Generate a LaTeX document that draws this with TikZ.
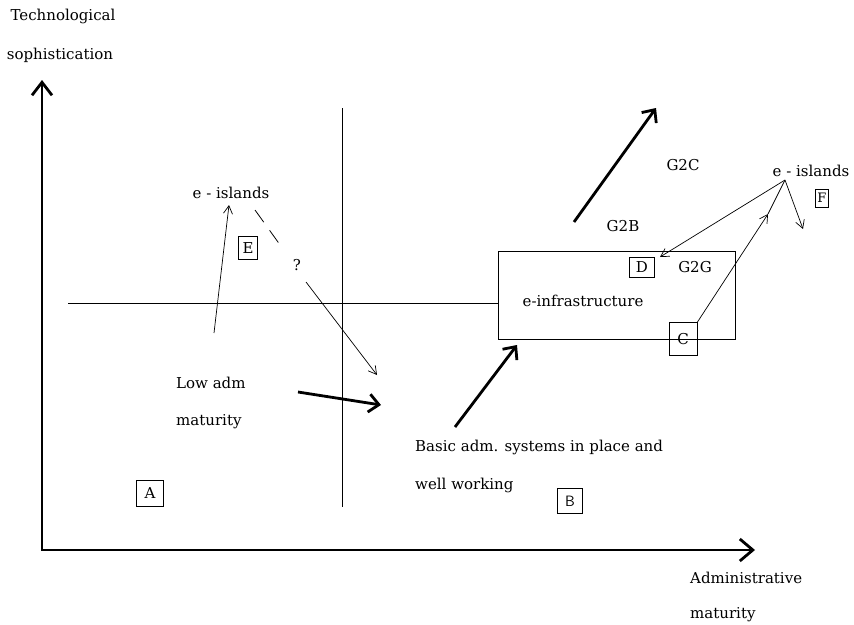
\documentclass[tikz,border=0pt]{standalone}
\usepackage{fontspec}
\setmainfont{DejaVu Serif}
\usetikzlibrary{arrows.meta}
\begin{document}
\begin{tikzpicture}[x=1pt,y=-1pt,
  lbl/.style={font=\fontsize{15}{17}\selectfont, inner sep=0pt},
  lbll/.style={lbl, anchor=west},
  letterbox/.style={draw, line width=0.8pt, inner sep=0pt, font=\fontsize{15}{17}\selectfont},
  axis/.style={line width=2.8pt, line join=miter,
    {Straight Barb[length=13pt,width=20pt]}-{Straight Barb[length=13pt,width=22pt]}},
  thickarrow/.style={line width=2.8pt, -{Straight Barb[length=10pt,width=18pt]}},
  thinarrow/.style={line width=0.7pt, -{Straight Barb[length=8pt,width=9pt]}},
  thinline/.style={line width=0.8pt}]
\useasboundingbox (0,0) rectangle (854,624);

% axes
\coordinate (o) at (42,550);
\coordinate (ytip) at (42,80);
\coordinate (xtip) at (755,550);
\draw[axis] (ytip) -- (o) -- (xtip);

% axis labels
\node[lbl] (tech) at (63,16) {Technological};
\node[lbl] (soph) at (60,55) {sophistication};
\node[lbll] (adm1) at (690,578) {Administrative};
\node[lbll] (adm2) at (690,615) {maturity};

% dividing lines
\node[draw, thinline, minimum width=237pt, minimum height=88pt, inner sep=0pt] (infra) at (616.5,295) {};
\coordinate (hl) at (68,303);
\draw[thinline] (hl) -- (infra.west |- hl);
\coordinate (vt) at (342,108);
\coordinate (vb) at (342,507);
\draw[thinline] (vt) -- (vb);

% texts
\node[lbl] (eisl1) at (231,193) {e - islands};
\node[lbl] (eisl2) at (811,171) {e - islands};
\node[lbll] (low1) at (176,383) {Low adm};
\node[lbll] (low2) at (176,422) {maturity};
\node[lbll] (basic1) at (415,447) {Basic adm. systems in place and};
\node[lbll] (basic2) at (415,485) {well working};
\node[lbl] (infratext) at (583,301) {e-infrastructure};
\node[lbl] (g2b) at (623,226) {G2B};
\node[lbl] (g2c) at (683,165) {G2C};
\node[lbl] (g2g) at (695,267) {G2G};
\node[lbl] (q) at (297,265) {?};

% letter boxes
\node[letterbox, minimum width=27pt, minimum height=26pt] (A) at (150,493) {A};
\node[letterbox, minimum width=25pt, minimum height=25pt, font=\sffamily\fontsize{15}{17}\selectfont] (B) at (570,501) {B};
\node[letterbox, minimum width=28pt, minimum height=33pt] (C) at (683,339) {C};
\node[letterbox, minimum width=25pt, minimum height=20pt] (D) at (642,267) {D};
\node[letterbox, minimum width=19pt, minimum height=23pt] (E) at (248,248) {E};
\node[letterbox, minimum width=13pt, minimum height=18pt, font=\fontsize{13}{15}\selectfont] (F) at (822,198) {F};

% left arrows
\coordinate (l1) at (214,333);
\coordinate (l1t) at (229,205);
\draw[thinarrow] (l1) -- (l1t);
\coordinate (d1) at (255,210);
\coordinate (d2) at (283,249);
\draw[thinline, dash pattern=on 15pt off 10pt] (d1) -- (d2);
\coordinate (q1) at (306,282);
\coordinate (q2) at (377,375);
\draw[thinarrow] (q1) -- (q2);

% thick arrows
\coordinate (t1a) at (298,392);
\coordinate (t1b) at (381,405);
\draw[thickarrow] (t1a) -- (t1b);
\coordinate (t2a) at (455,427);
\coordinate (t2b) at (517,345);
\draw[thickarrow] (t2a) -- (t2b);
\coordinate (t3a) at (574,222);
\coordinate (t3b) at (656,108);
\draw[thickarrow] (t3a) -- (t3b);

% right arrows
\coordinate (ei) at (785,180);
\coordinate (dtip) at (660,257);
\coordinate (ftip) at (803,229);
\coordinate (ctip) at (768,214);
\draw[thinarrow] (ei) -- (dtip);
\draw[thinarrow] (ei) -- (ftip);
\draw[thinarrow] (C.north east) -- (ctip);
\draw[thinline] (ctip) -- (ei);
\end{tikzpicture}
\end{document}
